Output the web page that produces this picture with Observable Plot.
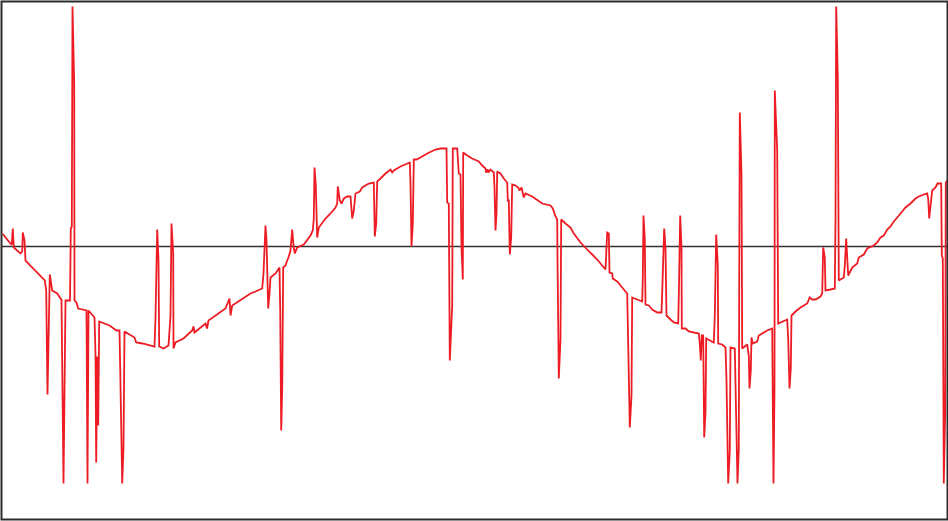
<!DOCTYPE html>
<html>
<head>
<meta charset="utf-8">
<script src="https://cdn.jsdelivr.net/npm/d3@7"></script>
<script src="https://cdn.jsdelivr.net/npm/@observablehq/plot@0.6"></script>
<style>
  html, body { margin: 0; padding: 0; background: #fff; }
  #chart svg { display: block; }
</style>
</head>
<body>
<div id="chart"></div>
<script>
// Sample index of each reading
const sampleIndex = [
  0.7, 8, 9.3, 10.3, 11.3, 18, 19.7, 20.3, 22, 23,
  42.3, 43.7, 45, 47.3, 49.7, 54.7, 58, 59, 61, 63,
  67.5, 68.3, 69.3, 70, 71.7, 72, 74, 75.7, 84, 85,
  86, 92, 93, 93.7, 94.7, 95.7, 96.7, 107, 114, 117,
  117.7, 119.7, 121, 122, 132, 133.7, 140, 152, 153, 154.7,
  156, 156.7, 161, 166, 168, 169, 170.7, 171, 173, 181,
  189.7, 191, 192, 203, 204.5, 206, 223, 227, 228, 229.7,
  248, 253, 259.7, 261, 263, 264, 265.7, 267, 268, 273,
  277, 277.7, 278.7, 279.7, 280.7, 283, 284.7, 286.3, 288, 289.7,
  291, 292.3, 294.7, 301.3, 308, 310.3, 311.3, 312, 313.3, 314.7,
  316.3, 323, 328, 333, 334.7, 335.3, 337.3, 339, 341.3, 344.7,
  348, 349.7, 351.3, 353, 357.3, 359.7, 366.3, 371.3, 372.3, 373.7,
  374.7, 378, 383, 388, 389.7, 391.3, 398, 407.3, 408, 409,
  410.3, 411.3, 414, 418, 424.7, 433, 438, 444, 444.7, 446.3,
  447.3, 449.7, 450.3, 454.7, 456.3, 458, 459, 460.3, 460.7, 464.7,
  469.7, 476.3, 479.7, 483, 483.7, 485.3, 486, 488, 491.3, 492,
  493, 494, 494.7, 498, 501.3, 504.7, 505.3, 506.3, 507.3, 508.7,
  509.7, 513, 515.7, 517, 519, 521.3, 523, 529.7, 539.7, 548,
  550.3, 553, 554.7, 555, 556.3, 558, 558.7, 563, 568, 571.3,
  578, 584.7, 589.7, 594.7, 599.7, 603, 604.7, 606.3, 607, 609.7,
  610.3, 614.7, 618, 624.7, 625.3, 627.3, 629, 629.7, 634.7, 639.7,
  640.3, 641, 642.3, 643, 646.3, 649.7, 654.7, 659, 659.7, 661.7,
  663, 664, 668, 671.3, 675.7, 676.3, 677.7, 679, 679.3, 683,
  686.3, 696.3, 697.3, 698.3, 699.3, 700.7, 701.7, 703, 703.7, 711.3,
  712.3, 713.7, 715.3, 715.7, 719.7, 723, 724, 725.7, 727.3, 728,
  732.3, 733, 735, 736.3, 736.7, 737.3, 739, 739.7, 744.7, 746.3,
  747, 748.3, 749, 750.3, 754.7, 756.3, 764.7, 769.7, 770, 771,
  772, 772.3, 774.7, 775.7, 784.7, 785.7, 787, 788.3, 789, 793,
  798, 804.7, 807.3, 809.7, 813, 818, 819.7, 820.7, 822.3, 823,
  828, 832.3, 833, 833.7, 835.3, 836.3, 841.3, 842.3, 843.7, 844.7,
  845.7, 849.7, 854.7, 856.3, 861.3, 864.7, 871.3, 874.7, 878, 881.3,
  884.7, 888, 891.3, 894.7, 898, 903, 908, 913, 916.3, 921.3,
  924.7, 925.7, 926.7, 928.3, 929.7, 933, 935, 938.7, 939.3, 940.3,
  941.3, 942.7, 943.3, 944
];

// Signal value at each sample
const signal = [
  0.12, 0.03, 0.02, 0.18, -0.01, -0.07, -0.05, 0.14, 0.06, -0.14,
  -0.34, -0.44, -1.48, -0.28, -0.44, -0.47, -0.52, -0.53, -2.37, -0.54,
  -0.54, 0.18, 0.20, 2.40, 1.63, -0.54, -0.56, -0.62, -0.64, -2.37,
  -0.64, -0.71, -1.07, -2.16, -1.10, -1.79, -0.75, -0.79, -0.84, -0.84,
  -1.21, -2.37, -2.01, -0.85, -0.91, -0.96, -0.97, -1.00, -0.71, 0.17,
  -0.14, -1.00, -1.02, -0.99, -0.69, 0.23, -0.07, -1.02, -0.96, -0.92,
  -0.84, -0.80, -0.86, -0.77, -0.82, -0.74, -0.62, -0.52, -0.69, -0.59,
  -0.47, -0.45, -0.42, -0.27, 0.21, 0.06, -0.62, -0.47, -0.31, -0.27,
  -0.21, -0.62, -1.84, -1.42, -0.21, -0.19, -0.14, -0.10, -0.04, 0.17,
  0.01, -0.07, -0.01, 0.02, 0.11, 0.16, 0.28, 0.79, 0.61, 0.09,
  0.19, 0.28, 0.33, 0.39, 0.43, 0.60, 0.46, 0.43, 0.48, 0.50,
  0.50, 0.28, 0.36, 0.53, 0.55, 0.59, 0.63, 0.64, 0.10, 0.23,
  0.65, 0.68, 0.73, 0.77, 0.74, 0.76, 0.80, 0.84, 0.63, 0.00,
  0.23, 0.87, 0.87, 0.89, 0.93, 0.97, 0.98, 0.98, 0.44, 0.43,
  -1.14, -0.59, 0.98, 0.98, 0.73, 0.72, -0.01, -0.33, 0.94, 0.91,
  0.88, 0.85, 0.81, 0.78, 0.74, 0.77, 0.74, 0.77, 0.74, 0.59,
  0.16, 0.33, 0.75, 0.73, 0.68, 0.64, 0.46, 0.46, -0.08, 0.09,
  0.62, 0.61, 0.59, 0.56, 0.59, 0.49, 0.53, 0.50, 0.43, 0.41,
  0.38, 0.30, 0.27, -0.11, -1.32, -0.92, 0.27, 0.23, 0.19, 0.13,
  0.04, -0.03, -0.08, -0.13, -0.19, -0.23, 0.14, 0.13, -0.26, -0.27,
  -0.32, -0.35, -0.39, -0.47, -0.77, -1.81, -1.49, -0.51, -0.53, -0.55,
  -0.32, 0.31, 0.07, -0.58, -0.59, -0.63, -0.66, -0.66, -0.46, 0.18,
  -0.02, -0.69, -0.73, -0.76, -0.77, -0.50, 0.31, -0.01, -0.82, -0.82,
  -0.85, -0.87, -0.97, -1.14, -0.89, -0.89, -1.91, -1.66, -0.92, -0.96,
  -0.69, 0.12, -0.19, -0.97, -0.98, -1.01, -1.34, -2.37, -2.04, -1.01,
  -1.02, -1.37, -2.37, -2.02, -0.44, 1.34, 0.72, -1.02, -0.98, -1.09,
  -1.42, -1.24, -0.91, -0.97, -0.95, -0.89, -0.84, -0.82, -1.21, -2.37,
  -1.41, 1.56, 0.96, -0.77, -0.73, -0.92, -1.42, -1.22, -0.69, -0.65,
  -0.61, -0.57, -0.51, -0.53, -0.53, -0.50, -0.47, -0.01, -0.11, -0.44,
  -0.43, -0.42, 0.26, 2.40, 1.69, -0.34, -0.31, -0.19, 0.08, -0.11,
  -0.29, -0.21, -0.17, -0.11, -0.08, -0.02, 0.01, 0.04, 0.09, 0.11,
  0.17, 0.20, 0.25, 0.29, 0.33, 0.39, 0.43, 0.48, 0.50, 0.52,
  0.53, 0.48, 0.28, 0.43, 0.56, 0.59, 0.63, 0.63, -0.09, -0.12,
  -2.37, -1.64, 0.64, 0.65
];

// Reference level
const baseline = [0];

const readings = sampleIndex.map((t, i) => ({t, value: signal[i]}));

const chart = Plot.plot({
  width: 948,
  height: 521,
  marginTop: 1,
  marginBottom: 2,
  marginLeft: 1,
  marginRight: 1,
  x: {domain: [0, 944], range: [2, 946], axis: null},
  y: {domain: [-2.73, 2.45], range: [519, 1], axis: null},
  marks: [
    Plot.ruleY(baseline, {stroke: "#333", strokeWidth: 1.7}),
    Plot.line(readings, {x: "t", y: "value", stroke: "#ed1c24", strokeWidth: 1.8, strokeLinejoin: "miter", strokeMiterlimit: 2}),
    Plot.frame({stroke: "#2b2b2b", strokeWidth: 2})
  ]
});

document.getElementById("chart").append(chart);
</script>
</body>
</html>
